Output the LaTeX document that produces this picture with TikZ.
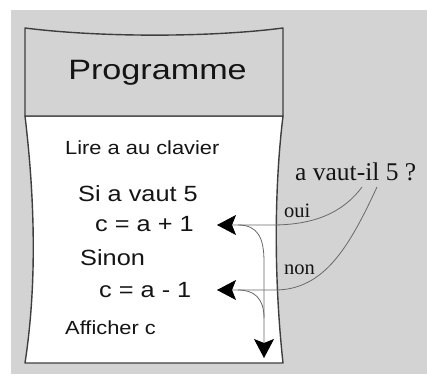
\documentclass[tikz,border=0pt]{standalone}
\usepackage{fontspec}
\usetikzlibrary{arrows.meta}
\newfontfamily\boxsans[FakeStretch=1.15]{Liberation Sans}
\newfontfamily\titlesans[FakeStretch=1.22]{Liberation Sans}
\newfontfamily\noteserif{Liberation Serif}
\definecolor{panel}{RGB}{211,211,211}
\definecolor{edge}{RGB}{62,62,62}
\definecolor{wire}{RGB}{105,105,105}
\definecolor{ink}{RGB}{20,20,20}
\tikzset{
  txt/.style={inner sep=0pt, anchor=base west, text=ink},
  small/.style={txt, font=\boxsans\fontsize{19}{22}\selectfont},
  big/.style={txt, font=\boxsans\fontsize{22}{26}\selectfont},
  note/.style={txt, font=\noteserif\fontsize{25.5}{30}\selectfont},
  tag/.style={txt, font=\noteserif\fontsize{20.5}{24}\selectfont},
  wire/.style={draw=wire, line width=0.8pt},
  scroll/.style={draw=edge, line width=1.4pt, line join=round},
  >={Stealth[length=19pt, width=20pt, inset=4pt, color=black]}
}
\begin{document}
\begin{tikzpicture}[x=1pt, y=-1pt]
  % page and grey backdrop
  \fill[white] (0,0) rectangle (427,374);
  \fill[panel] (11,10) rectangle (427,374);
  \useasboundingbox (0,0) rectangle (427,374);

  % body of the scroll
  \filldraw[scroll, fill=white]
    (25,116) -- (283,116)
    .. controls (274,190) and (274,280) .. (283,363)
    -- (25,363)
    .. controls (37,285) and (35,200) .. (25,116) -- cycle;
  % header of the scroll
  \filldraw[scroll, fill=panel]
    (25,28) .. controls (100,37.5) and (210,37.5) .. (283,28)
    -- (283,116) -- (25,116) -- cycle;

  % texts
  \node[anchor=base, inner sep=0pt, text=ink,
        font=\titlesans\fontsize{28}{32}\selectfont] (title) at (157.5,79.3) {Programme};
  \node[small] (lire) at (65,154) {Lire a au clavier};
  \node[big] (si) at (78,201.7) {Si a vaut 5};
  \node[big] (plus) at (95,231.7) {c = a + 1};
  \node[big] (sinon) at (80,265) {Sinon};
  \node[big] (moins) at (99,297.3) {c = a - 1};
  \node[small] (aff) at (65,334) {Afficher c};
  \node[note] (q) at (295,180.7) {a vaut-il 5 ?};
  \node[tag] (oui) at (284,217.5) {oui};
  \node[tag] (non) at (284,274.3) {non};

  % connector ends
  \coordinate (ouiStart) at (362,187);
  \coordinate (nonStart) at (377,187);
  \coordinate (tipA) at (217,225);
  \coordinate (tipB) at (217,290);
  \coordinate (brA) at (238,225);
  \coordinate (brB) at (238,290);
  \coordinate (tipC) at (264,358);

  % answers to the test
  \draw[wire, ->] (ouiStart) .. controls (342,214) and (312,225) .. (272,225) -- (tipA);
  \draw[wire, ->] (nonStart) .. controls (350,245) and (325,290) .. (275,290) -- (tipB);
  % flow on towards the display
  \draw[wire, ->] (brA) .. controls (258,225) and (264,238) .. (264,262) -- (tipC);
  \draw[wire] (brB) .. controls (254,290) and (264,298) .. (264,318);
\end{tikzpicture}
\end{document}
